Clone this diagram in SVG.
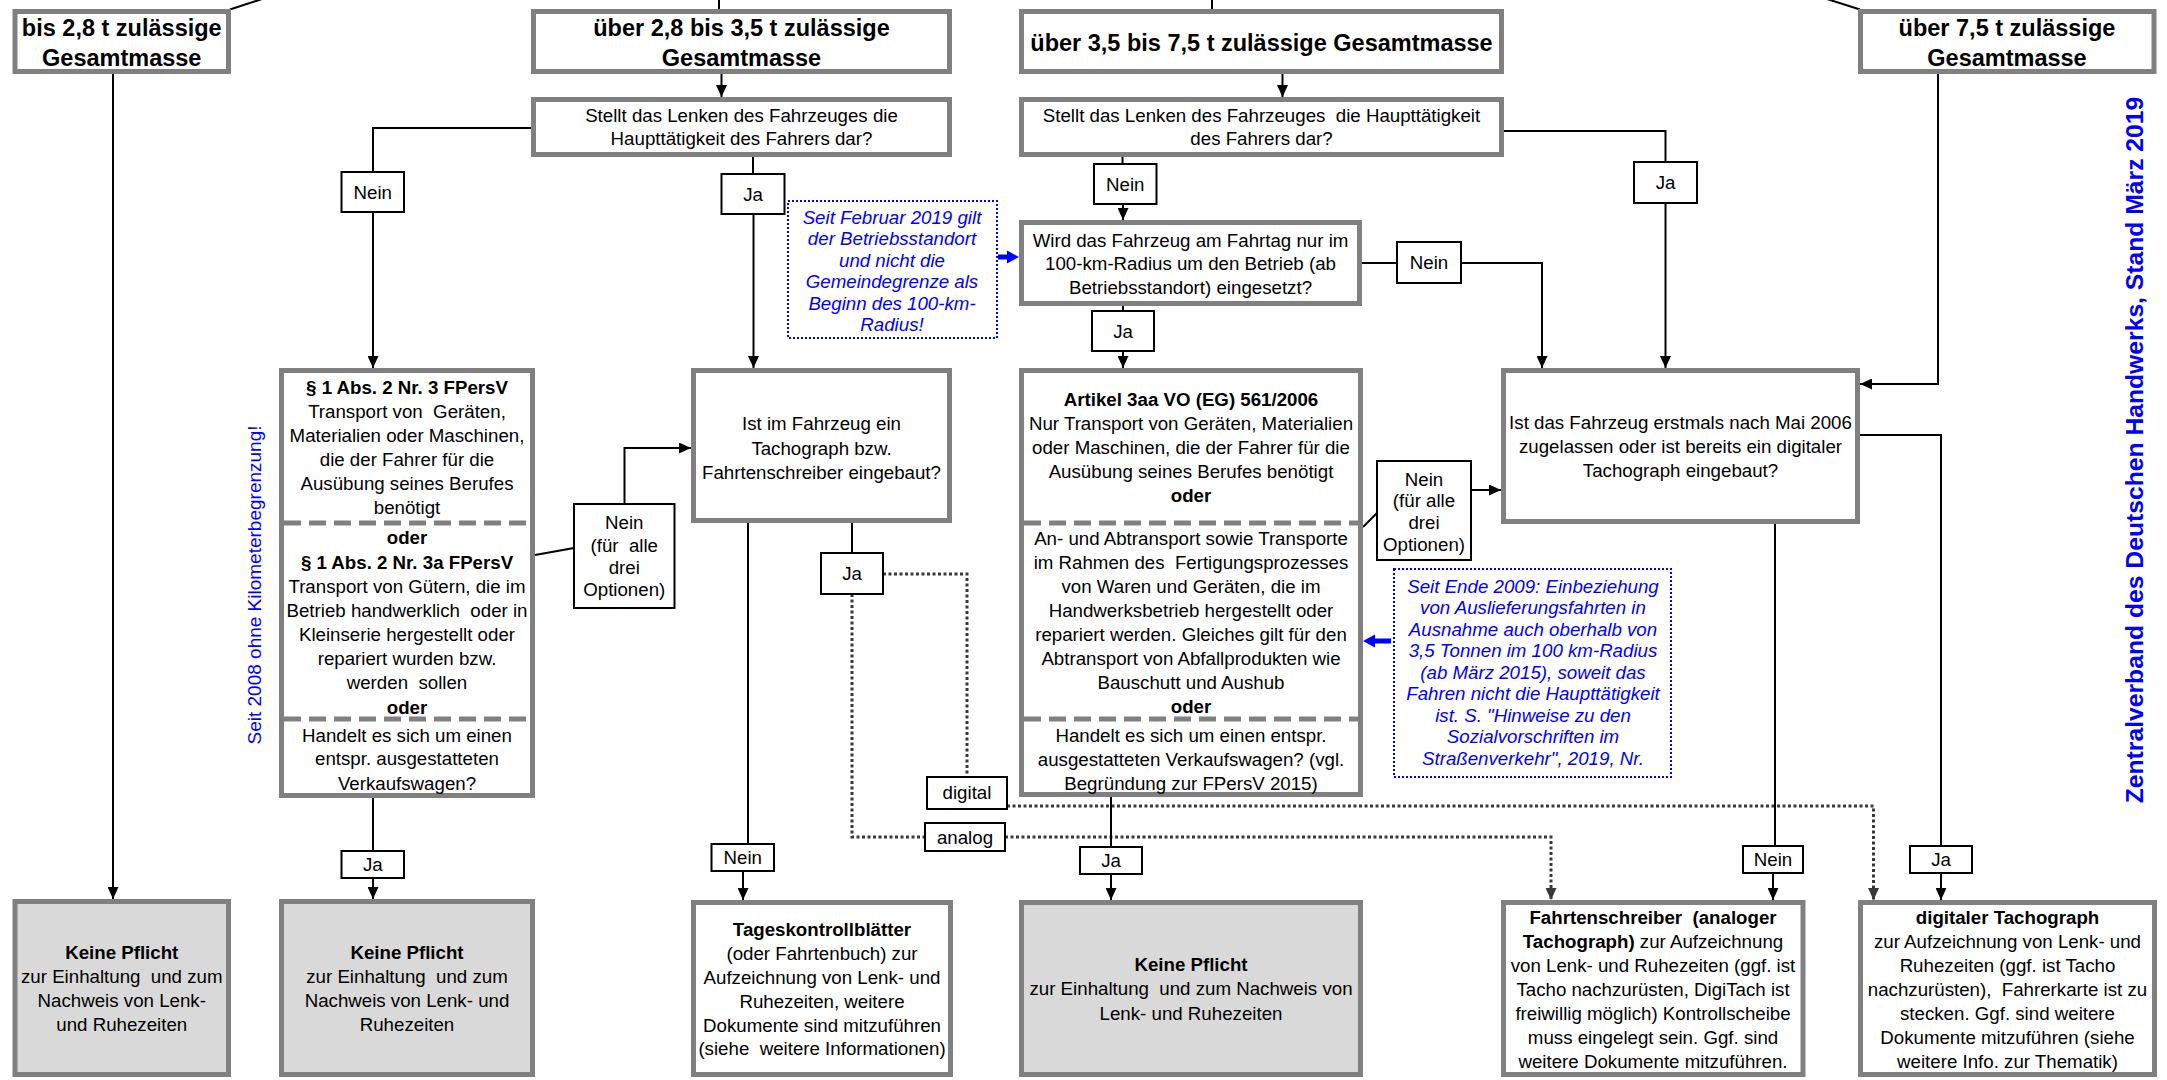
<svg xmlns="http://www.w3.org/2000/svg" width="2167" height="1080" viewBox="0 0 2167 1080">
<style>
text{font-family:"Liberation Sans",Arial,Helvetica,sans-serif;font-size:18.7px;text-anchor:middle;fill:#000}
.h{font-size:23.5px;font-weight:bold}
.b{font-weight:bold}
.bl{fill:#0000ff;font-style:italic}
.g{fill:#fff;stroke:#808080;stroke-width:5}
.gf{fill:#d9d9d9;stroke:#808080;stroke-width:5}
.lb{fill:#fff;stroke:#000;stroke-width:2}
.sep{stroke:#808080;stroke-width:5;stroke-dasharray:17 8;fill:none}
.bbox{fill:#fff;stroke:#0000ff;stroke-width:2;stroke-dasharray:2 2}
.c{fill:none;stroke:#000;stroke-width:2}
.ca{fill:none;stroke:#000;stroke-width:2;marker-end:url(#a)}
.d{fill:none;stroke:#383838;stroke-width:3;stroke-dasharray:3 2.5}
.da{fill:none;stroke:#383838;stroke-width:3;stroke-dasharray:3 2.5;marker-end:url(#ad)}
</style>
<defs>
<marker id="a" markerWidth="12" markerHeight="11" refX="12" refY="5.5" orient="auto" markerUnits="userSpaceOnUse"><path d="M0,0 L12,5.5 L0,11 z" fill="#000"/></marker>
<marker id="ad" markerWidth="12" markerHeight="11" refX="12" refY="5.5" orient="auto" markerUnits="userSpaceOnUse"><path d="M0,0 L12,5.5 L0,11 z" fill="#383838"/></marker>
</defs>
<rect x="0" y="0" width="2167" height="1080" fill="#fff"/>

<g id="connectors">
<path class="c" d="M262,-1 L230,9.5"/>
<path class="c" d="M719,0 V9"/>
<path class="c" d="M1212,0 V9"/>
<path class="c" d="M1827,-1 L1860,9.5"/>
<path class="ca" d="M113,74 V899"/>
<path class="ca" d="M721.5,74 V97"/>
<path class="c" d="M531,128 H373 V172"/>
<path class="ca" d="M373,212 V368"/>
<path class="c" d="M753,157 V174"/>
<path class="ca" d="M753.5,214 V368"/>
<path class="ca" d="M1282.5,74 V97"/>
<path class="c" d="M1122.5,157 V164"/>
<path class="ca" d="M1123,204 V220"/>
<path class="c" d="M1504,131 H1665.5 V162"/>
<path class="ca" d="M1665.5,203 V368"/>
<path class="c" d="M1362,263 H1397"/>
<path class="ca" d="M1461,263 H1542 V368"/>
<path class="c" d="M1123,306 V311"/>
<path class="ca" d="M1123,351 V368"/>
<path class="ca" d="M1938,74 V384 H1860"/>
<path class="c" d="M535,555 L574,548"/>
<path class="ca" d="M624.5,504 V448 H691"/>
<path class="c" d="M748,523 V844"/>
<path class="ca" d="M743,871 V900"/>
<path class="c" d="M852,523 V553"/>
<path class="d" d="M883,574 H967 V777"/>
<path class="d" d="M852,594 V837 H925"/>
<path class="da" d="M1007,806 H1873.5 V900"/>
<path class="da" d="M1005,837 H1551 V900"/>
<path class="c" d="M1363,527 L1377,513"/>
<path class="ca" d="M1471,490 H1501"/>
<path class="c" d="M373,798 V851"/>
<path class="ca" d="M373,878 V899"/>
<path class="c" d="M1111,797 V847"/>
<path class="ca" d="M1111,874 V900"/>
<path class="c" d="M1775,524 V846"/>
<path class="ca" d="M1773,873 V900"/>
<path class="c" d="M1860,435 H1941 V846"/>
<path class="ca" d="M1941,873 V900"/>
<polygon fill="#0000ff" points="998,254.5 1007,254.5 1007,250.5 1019,257 1007,263.5 1007,259.5 998,259.5"/>
<polygon fill="#0000ff" points="1391,638.5 1375,638.5 1375,634.5 1363,641 1375,647.5 1375,643.5 1391,643.5"/>
</g>

<g id="h1"><rect class="g" x="15" y="11.5" width="213.5" height="60"/><text class="h" x="121.75" y="35.5">bis 2,8 t zulässige</text><text class="h" x="121.75" y="65.5">Gesamtmasse</text></g>
<g id="h2"><rect class="g" x="533.5" y="11.5" width="416" height="60"/><text class="h" x="741.5" y="35.5">über 2,8 bis 3,5 t zulässige</text><text class="h" x="741.5" y="65.5">Gesamtmasse</text></g>
<g id="h3"><rect class="g" x="1021.5" y="11.5" width="480" height="60"/><text class="h" x="1261.5" y="50.5">über 3,5 bis 7,5 t zulässige Gesamtmasse</text></g>
<g id="h4"><rect class="g" x="1860.5" y="11.5" width="293.5" height="60"/><text class="h" x="2007" y="35.5">über 7,5 t zulässige</text><text class="h" x="2007" y="65.5">Gesamtmasse</text></g>

<g id="q1"><rect class="g" x="533.5" y="99.5" width="416" height="55"/><text x="741.5" y="121.5">Stellt das Lenken des Fahrzeuges die</text><text x="741.5" y="144.5">Haupttätigkeit des Fahrers dar?</text></g>
<g id="q2"><rect class="g" x="1021.5" y="99.5" width="480" height="55"/><text x="1261.5" y="121.5" xml:space="preserve">Stellt das Lenken des Fahrzeuges  die Haupttätigkeit</text><text x="1261.5" y="144.5">des Fahrers dar?</text></g>
<g id="q3"><rect class="g" x="1021.5" y="222.5" width="338" height="81"/><text x="1190.5" y="246.5">Wird das Fahrzeug am Fahrtag nur im</text><text x="1190.5" y="269.5">100-km-Radius um den Betrieb (ab</text><text x="1190.5" y="293.5">Betriebsstandort) eingesetzt?</text></g>

<g id="fpersv">
<rect class="g" x="281.5" y="370.5" width="251" height="425"/>
<path class="sep" d="M284,523 H531 M284,719 H531"/>
<text class="b" x="407" y="393.5">§ 1 Abs. 2 Nr. 3 FPersV</text>
<text x="407" y="418" xml:space="preserve">Transport von  Geräten,</text>
<text x="407" y="442">Materialien oder Maschinen,</text>
<text x="407" y="466">die der Fahrer für die</text>
<text x="407" y="490">Ausübung seines Berufes</text>
<text x="407" y="514">benötigt</text>
<text class="b" x="407" y="544">oder</text>
<text class="b" x="407" y="568.5">§ 1 Abs. 2 Nr. 3a FPersV</text>
<text x="407" y="592.5">Transport von Gütern, die im</text>
<text x="407" y="616.5" xml:space="preserve">Betrieb handwerklich  oder in</text>
<text x="407" y="640.5">Kleinserie hergestellt oder</text>
<text x="407" y="664.5">repariert wurden bzw.</text>
<text x="407" y="688.5" xml:space="preserve">werden  sollen</text>
<text class="b" x="407" y="713.5">oder</text>
<text x="407" y="741.5">Handelt es sich um einen</text>
<text x="407" y="765">entspr. ausgestatteten</text>
<text x="407" y="789.5">Verkaufswagen?</text>
</g>

<g id="tacho-q"><rect class="g" x="693.5" y="370.5" width="256" height="150"/><text x="821.5" y="429.5">Ist im Fahrzeug ein</text><text x="821.5" y="454.5">Tachograph bzw.</text><text x="821.5" y="478.5">Fahrtenschreiber eingebaut?</text></g>

<g id="artikel">
<rect class="g" x="1021.5" y="370.5" width="339" height="424"/>
<path class="sep" d="M1024,523 H1358 M1024,719 H1358"/>
<text class="b" x="1191" y="405.5">Artikel 3aa VO (EG) 561/2006</text>
<text x="1191" y="429.5">Nur Transport von Geräten, Materialien</text>
<text x="1191" y="454">oder Maschinen, die der Fahrer für die</text>
<text x="1191" y="478">Ausübung seines Berufes benötigt</text>
<text class="b" x="1191" y="502">oder</text>
<text x="1191" y="544.5">An- und Abtransport sowie Transporte</text>
<text x="1191" y="568.5" xml:space="preserve">im Rahmen des  Fertigungsprozesses</text>
<text x="1191" y="592.5">von Waren und Geräten, die im</text>
<text x="1191" y="616.5">Handwerksbetrieb hergestellt oder</text>
<text x="1191" y="640.5">repariert werden. Gleiches gilt für den</text>
<text x="1191" y="664.5">Abtransport von Abfallprodukten wie</text>
<text x="1191" y="688.5">Bauschutt und Aushub</text>
<text class="b" x="1191" y="712.5">oder</text>
<text x="1191" y="741.5">Handelt es sich um einen entspr.</text>
<text x="1191" y="765.5">ausgestatteten Verkaufswagen? (vgl.</text>
<text x="1191" y="789.5">Begründung zur FPersV 2015)</text>
</g>

<g id="q-2006"><rect class="g" x="1503.5" y="370.5" width="354" height="151"/><text x="1680.5" y="428.5">Ist das Fahrzeug erstmals nach Mai 2006</text><text x="1680.5" y="452.5">zugelassen oder ist bereits ein digitaler</text><text x="1680.5" y="476.5">Tachograph eingebaut?</text></g>

<g id="note1"><rect class="bbox" x="788" y="201" width="209" height="137"/>
<text class="bl" x="892" y="223.5">Seit Februar 2019 gilt</text>
<text class="bl" x="892" y="245">der Betriebsstandort</text>
<text class="bl" x="892" y="266.5">und nicht die</text>
<text class="bl" x="892" y="288">Gemeindegrenze als</text>
<text class="bl" x="892" y="309.5">Beginn des 100-km-</text>
<text class="bl" x="892" y="331">Radius!</text>
</g>

<g id="note2"><rect class="bbox" x="1394" y="569" width="277" height="208"/>
<text class="bl" x="1533" y="592.5">Seit Ende 2009: Einbeziehung</text>
<text class="bl" x="1533" y="614">von Auslieferungsfahrten in</text>
<text class="bl" x="1533" y="635.5">Ausnahme auch oberhalb von</text>
<text class="bl" x="1533" y="657">3,5 Tonnen im 100 km-Radius</text>
<text class="bl" x="1533" y="678.5">(ab März 2015), soweit das</text>
<text class="bl" x="1533" y="700">Fahren nicht die Haupttätigkeit</text>
<text class="bl" x="1533" y="721.5">ist. S. "Hinweise zu den</text>
<text class="bl" x="1533" y="743">Sozialvorschriften im</text>
<text class="bl" x="1533" y="764.5">Straßenverkehr", 2019, Nr.</text>
</g>

<g id="b1"><rect class="gf" x="15" y="901.5" width="213.5" height="173"/><text class="b" x="121.75" y="959">Keine Pflicht</text><text x="121.75" y="983" xml:space="preserve">zur Einhaltung  und zum</text><text x="121.75" y="1007">Nachweis von Lenk-</text><text x="121.75" y="1031">und Ruhezeiten</text></g>
<g id="b2"><rect class="gf" x="281.5" y="901.5" width="251" height="173"/><text class="b" x="407" y="959">Keine Pflicht</text><text x="407" y="983" xml:space="preserve">zur Einhaltung  und zum</text><text x="407" y="1007">Nachweis von Lenk- und</text><text x="407" y="1031">Ruhezeiten</text></g>
<g id="b3"><rect class="g" x="693.5" y="902.5" width="257" height="172"/><text class="b" x="822" y="935.5">Tageskontrollblätter</text><text x="822" y="959.5">(oder Fahrtenbuch) zur</text><text x="822" y="983.5">Aufzeichnung von Lenk- und</text><text x="822" y="1007.5">Ruhezeiten, weitere</text><text x="822" y="1031.5">Dokumente sind mitzuführen</text><text x="822" y="1055" xml:space="preserve">(siehe  weitere Informationen)</text></g>
<g id="b4"><rect class="gf" x="1021.5" y="902.5" width="339" height="172"/><text class="b" x="1191" y="970.5">Keine Pflicht</text><text x="1191" y="995" xml:space="preserve">zur Einhaltung  und zum Nachweis von</text><text x="1191" y="1019.5">Lenk- und Ruhezeiten</text></g>
<g id="b5"><rect class="g" x="1503.5" y="902.5" width="299.5" height="172"/><text class="b" x="1653" y="923.5" xml:space="preserve">Fahrtenschreiber  (analoger</text><text x="1653" y="947.5"><tspan class="b">Tachograph)</tspan> zur Aufzeichnung</text><text x="1653" y="972">von Lenk- und Ruhezeiten (ggf. ist</text><text x="1653" y="996">Tacho nachzurüsten, DigiTach ist</text><text x="1653" y="1020">freiwillig möglich) Kontrollscheibe</text><text x="1653" y="1044">muss eingelegt sein. Ggf. sind</text><text x="1653" y="1068">weitere Dokumente mitzuführen.</text></g>
<g id="b6"><rect class="g" x="1860.5" y="902.5" width="294" height="172"/><text class="b" x="2007.5" y="923.5">digitaler Tachograph</text><text x="2007.5" y="947.5">zur Aufzeichnung von Lenk- und</text><text x="2007.5" y="971.5">Ruhezeiten (ggf. ist Tacho</text><text x="2007.5" y="995.5" xml:space="preserve">nachzurüsten),  Fahrerkarte ist zu</text><text x="2007.5" y="1020">stecken. Ggf. sind weitere</text><text x="2007.5" y="1044">Dokumente mitzuführen (siehe</text><text x="2007.5" y="1068">weitere Info. zur Thematik)</text></g>

<g id="l1"><rect class="lb" x="341.5" y="172" width="62.5" height="40"/><text x="372.75" y="198.5">Nein</text></g>
<g id="l2"><rect class="lb" x="721.5" y="174" width="63" height="40"/><text x="753" y="200.5">Ja</text></g>
<g id="l3"><rect class="lb" x="1094" y="164" width="62.5" height="40"/><text x="1125.25" y="190.5">Nein</text></g>
<g id="l4"><rect class="lb" x="1092" y="311" width="62" height="40"/><text x="1123" y="337.5">Ja</text></g>
<g id="l5"><rect class="lb" x="1397" y="242" width="64" height="41"/><text x="1429" y="269">Nein</text></g>
<g id="l6"><rect class="lb" x="1634" y="162" width="63" height="41"/><text x="1665.5" y="189">Ja</text></g>
<g id="l7"><rect class="lb" x="574" y="504" width="100.5" height="104"/><text x="624.25" y="529">Nein</text><text x="624.25" y="551.5" xml:space="preserve">(für  alle</text><text x="624.25" y="573.5">drei</text><text x="624.25" y="595.5">Optionen)</text></g>
<g id="l8"><rect class="lb" x="821" y="553" width="62" height="41"/><text x="852" y="580">Ja</text></g>
<g id="l9"><rect class="lb" x="1377" y="461" width="94" height="99"/><text x="1424" y="485.5">Nein</text><text x="1424" y="507">(für alle</text><text x="1424" y="528.5">drei</text><text x="1424" y="550.5">Optionen)</text></g>
<g id="l10"><rect class="lb" x="927" y="777" width="80" height="32"/><text x="967" y="799">digital</text></g>
<g id="l11"><rect class="lb" x="925" y="823" width="80" height="28"/><text x="965" y="843.5">analog</text></g>
<g id="l12"><rect class="lb" x="341.5" y="851" width="62.5" height="27"/><text x="372.75" y="871">Ja</text></g>
<g id="l13"><rect class="lb" x="711.5" y="844" width="62.5" height="27"/><text x="742.75" y="864">Nein</text></g>
<g id="l14"><rect class="lb" x="1080" y="847" width="62" height="27"/><text x="1111" y="867">Ja</text></g>
<g id="l15"><rect class="lb" x="1743" y="846" width="60" height="27"/><text x="1773" y="866">Nein</text></g>
<g id="l16"><rect class="lb" x="1910" y="846" width="62" height="27"/><text x="1941" y="866">Ja</text></g>

<g id="side-notes">
<text transform="translate(261,585) rotate(-90)" style="fill:#0000ff;font-size:19px">Seit 2008 ohne Kilometerbegrenzung!</text>
<text transform="translate(2143,450) rotate(-90)" style="fill:#0000ff;font-size:24.7px;font-weight:bold">Zentralverband des Deutschen Handwerks, Stand März 2019</text>
</g>
</svg>
